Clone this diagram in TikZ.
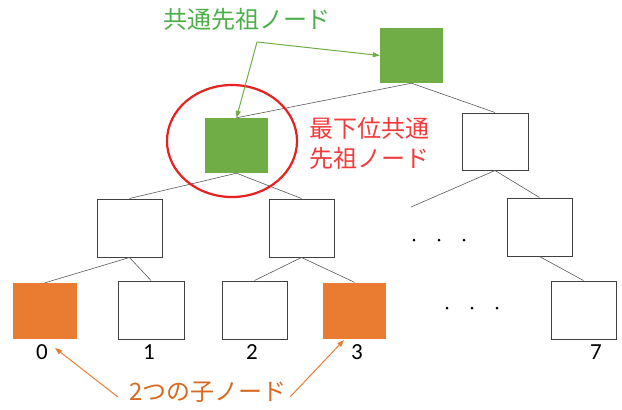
\documentclass[tikz,border=0pt]{standalone}
\usepackage{fontspec}
\setmainfont{Carlito}
\newfontfamily\jp{Noto Sans CJK JP}
\usetikzlibrary{arrows.meta}
\definecolor{gfill}{HTML}{70AD47}
\definecolor{ofill}{HTML}{E97C30}
\definecolor{gtext}{HTML}{4EAE4A}
\definecolor{rtext}{HTML}{F23A3A}
\definecolor{otext}{HTML}{D76A22}
\definecolor{rcirc}{HTML}{E8201F}
\tikzset{
  box/.style={rectangle, inner sep=0pt, minimum width=65pt, minimum height=58pt},
  wbox/.style={box, draw=black!75, line width=1pt, fill=white},
  gbox/.style={box, fill=gfill, minimum width=63pt, minimum height=55pt},
  obox/.style={box, fill=ofill, minimum width=64pt, minimum height=56pt},
  edge/.style={draw=black!65, line width=0.6pt},
  num/.style={font=\fontsize{23}{26}\selectfont, inner sep=0pt},
  garrow/.style={draw=gfill, line width=1pt, -{Triangle[length=7pt,width=5pt]}},
  oarrow/.style={draw=ofill, line width=1pt, -{Triangle[length=7pt,width=5pt]}},
  dot/.style={circle, fill=black, inner sep=0pt, minimum size=3pt}
}
\begin{document}
\begin{tikzpicture}[x=1pt,y=-1pt]
\useasboundingbox (0,0) rectangle (622,410);
% boxes
\node[gbox] (root) at (411.5,55.5) {};
\node[gbox] (a) at (236.5,145.5) {};
\node[wbox, minimum width=66pt, minimum height=57pt] (b) at (495,141.5) {};
\node[wbox] (aa) at (129.5,228) {};
\node[wbox] (ab) at (301.5,228) {};
\node[wbox] (bb) at (539.5,227) {};
\node[obox] (n0) at (45,311) {};
\node[wbox, minimum width=66pt] (n1) at (151,310) {};
\node[wbox] (n2) at (254.5,310) {};
\node[obox, minimum width=63pt] (n3) at (354.5,310.5) {};
\node[wbox] (n7) at (583.5,310) {};
\coordinate (bdots) at (411,207);
% edges
\draw[edge] (root.south) -- (a.north);
\draw[edge] (root.south) -- (b.north);
\draw[edge] (a.south) -- (aa.north);
\draw[edge] (a.south) -- (ab.north);
\draw[edge] (b.south) -- (bdots);
\draw[edge] (b.south) -- (bb.north);
\draw[edge] (aa.south) -- (n0.north);
\draw[edge] (aa.south) -- (n1.north);
\draw[edge] (ab.south) -- (n2.north);
\draw[edge] (ab.south) -- (n3.north);
\draw[edge] (bb.south) -- (n7.north);
% dots
\node[dot] (d1) at (414,240) {};
\node[dot] (d2) at (439,240) {};
\node[dot] (d3) at (464,240) {};
\node[dot] (d4) at (447,308) {};
\node[dot] (d5) at (472,308) {};
\node[dot] (d6) at (497,308) {};
% numbers
\node[num] (l0) at (42,352) {0};
\node[num] (l1) at (149,352) {1};
\node[num] (l2) at (252,352) {2};
\node[num] (l3) at (357,352) {3};
\node[num] (l7) at (596,352) {7};
% red ellipse
\draw[rcirc, line width=2.2pt] (232,141) ellipse [x radius=65, y radius=56];
% texts
\node[text=gtext, font=\jp\fontsize{24}{28}\selectfont, inner sep=0pt] (gt) at (247,19) {共通先祖ノード};
\node[text=rtext, font=\jp\fontsize{24}{30}\selectfont, align=left, inner sep=0pt, anchor=north west] (rt) at (309,117) {最下位共通\\先祖ノード};
\node[text=otext, font=\jp\fontsize{24}{28}\selectfont, inner sep=0pt] (ot) at (208,392) {2つの子ノード};
% arrows
\coordinate (g) at (257,42);
\draw[garrow] (g) -- (root.west);
\draw[garrow] (g) -- (a.north);
\coordinate (o1) at (118,397);
\coordinate (o2) at (290,397);
\coordinate (t0) at (55,348);
\coordinate (t3) at (344,340);
\draw[oarrow] (o1) -- (t0);
\draw[oarrow] (o2) -- (t3);
\end{tikzpicture}
\end{document}
